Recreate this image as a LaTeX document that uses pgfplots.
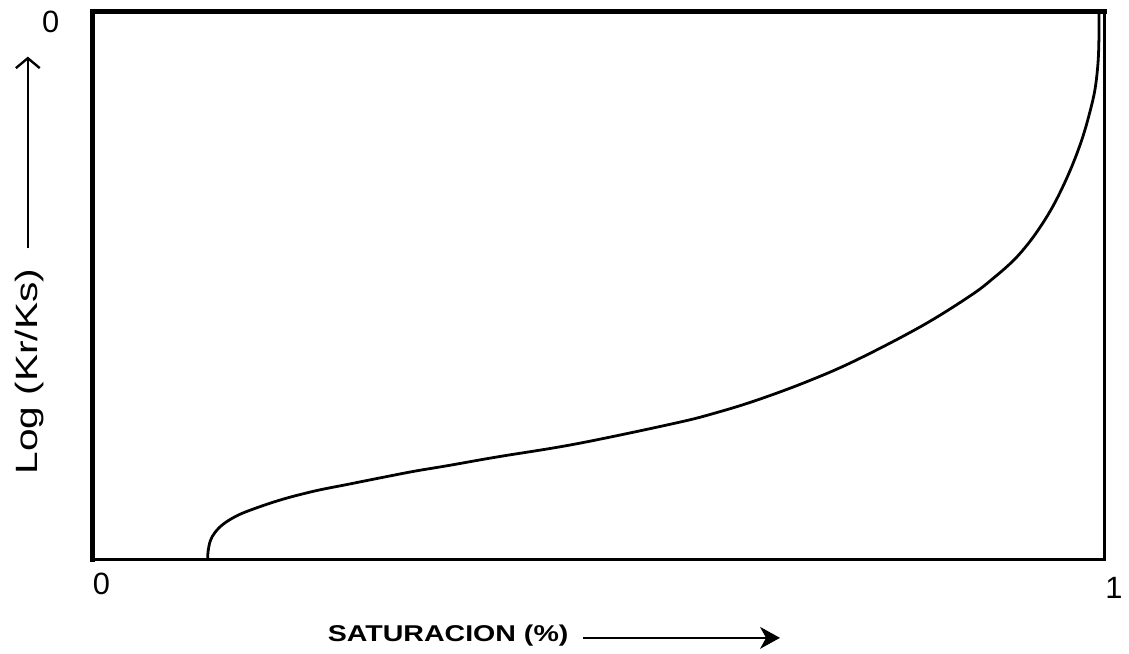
\documentclass[border=0pt]{standalone}
\usepackage{pgfplots}
\pgfplotsset{compat=1.18}
\usepackage{graphicx}
\usepackage{fontspec}
\setmainfont{Liberation Sans}
\usetikzlibrary{arrows.meta}
\begin{document}
\begin{tikzpicture}
\begin{axis}[
  at={(0,0)}, anchor=south west,
  scale only axis, width=509.5pt, height=275.5pt,
  xmin=0, xmax=1, ymin=-1, ymax=0,
  ticks=none,
  axis line style={line width=1.5pt, black},
  clip=false,
]
\addplot[black, line width=1.4pt, smooth, tension=0.6] coordinates {
(0.1138,-1.000) (0.1143,-0.985) (0.1165,-0.966) (0.1210,-0.951) (0.1290,-0.936)
(0.1410,-0.922) (0.1560,-0.910) (0.1865,-0.891) (0.2198,-0.875) (0.2522,-0.863)
(0.2846,-0.851) (0.3180,-0.839) (0.3503,-0.829) (0.3994,-0.813) (0.4779,-0.789)
(0.5761,-0.751) (0.6154,-0.7325) (0.6546,-0.7102) (0.7036,-0.6769) (0.7527,-0.6376)
(0.8184,-0.5745) (0.8675,-0.518) (0.8901,-0.486) (0.9097,-0.454) (0.9244,-0.423)
(0.9372,-0.390) (0.9490,-0.354) (0.9598,-0.314) (0.9696,-0.272) (0.9784,-0.227)
(0.9853,-0.182) (0.9902,-0.142) (0.9931,-0.096) (0.9941,-0.051) (0.9941,0.000)
};
\end{axis}
\begin{scope}[x=0.5pt, y=-0.5pt, shift={(-46.5pt,281.5pt)}]
  \path (0,0) rectangle (1129,657);
  \draw[line width=2.5pt, line cap=rect] (93,563) -- (93,12) -- (1112,12);
  \node[font=\fontsize{15.5}{18}\selectfont] at (51,22) {0};
  \node[font=\fontsize{15.5}{18}\selectfont] at (102,588) {0};
  \node[font=\fontsize{15.5}{18}\selectfont] at (1121,592) {1};
  \node[rotate=90, font=\fontsize{15.5}{18}\selectfont] at (30,374) {\scalebox{1.32}[1]{Log (Kr/Ks)}};
  \draw[line width=0.8pt, -{Straight Barb[length=5pt,width=12pt,line width=1.2pt]}] (28,250) -- (28,57);
  \node[font=\fontsize{11.5}{14}\selectfont\bfseries] at (451,640) {\scalebox{1.25}[1]{SATURACION (\%)}};
  \draw[line width=0.8pt, -{Stealth[length=10pt,width=11pt,inset=3pt]}] (587,642) -- (785,642);
\end{scope}
\end{tikzpicture}
\end{document}
